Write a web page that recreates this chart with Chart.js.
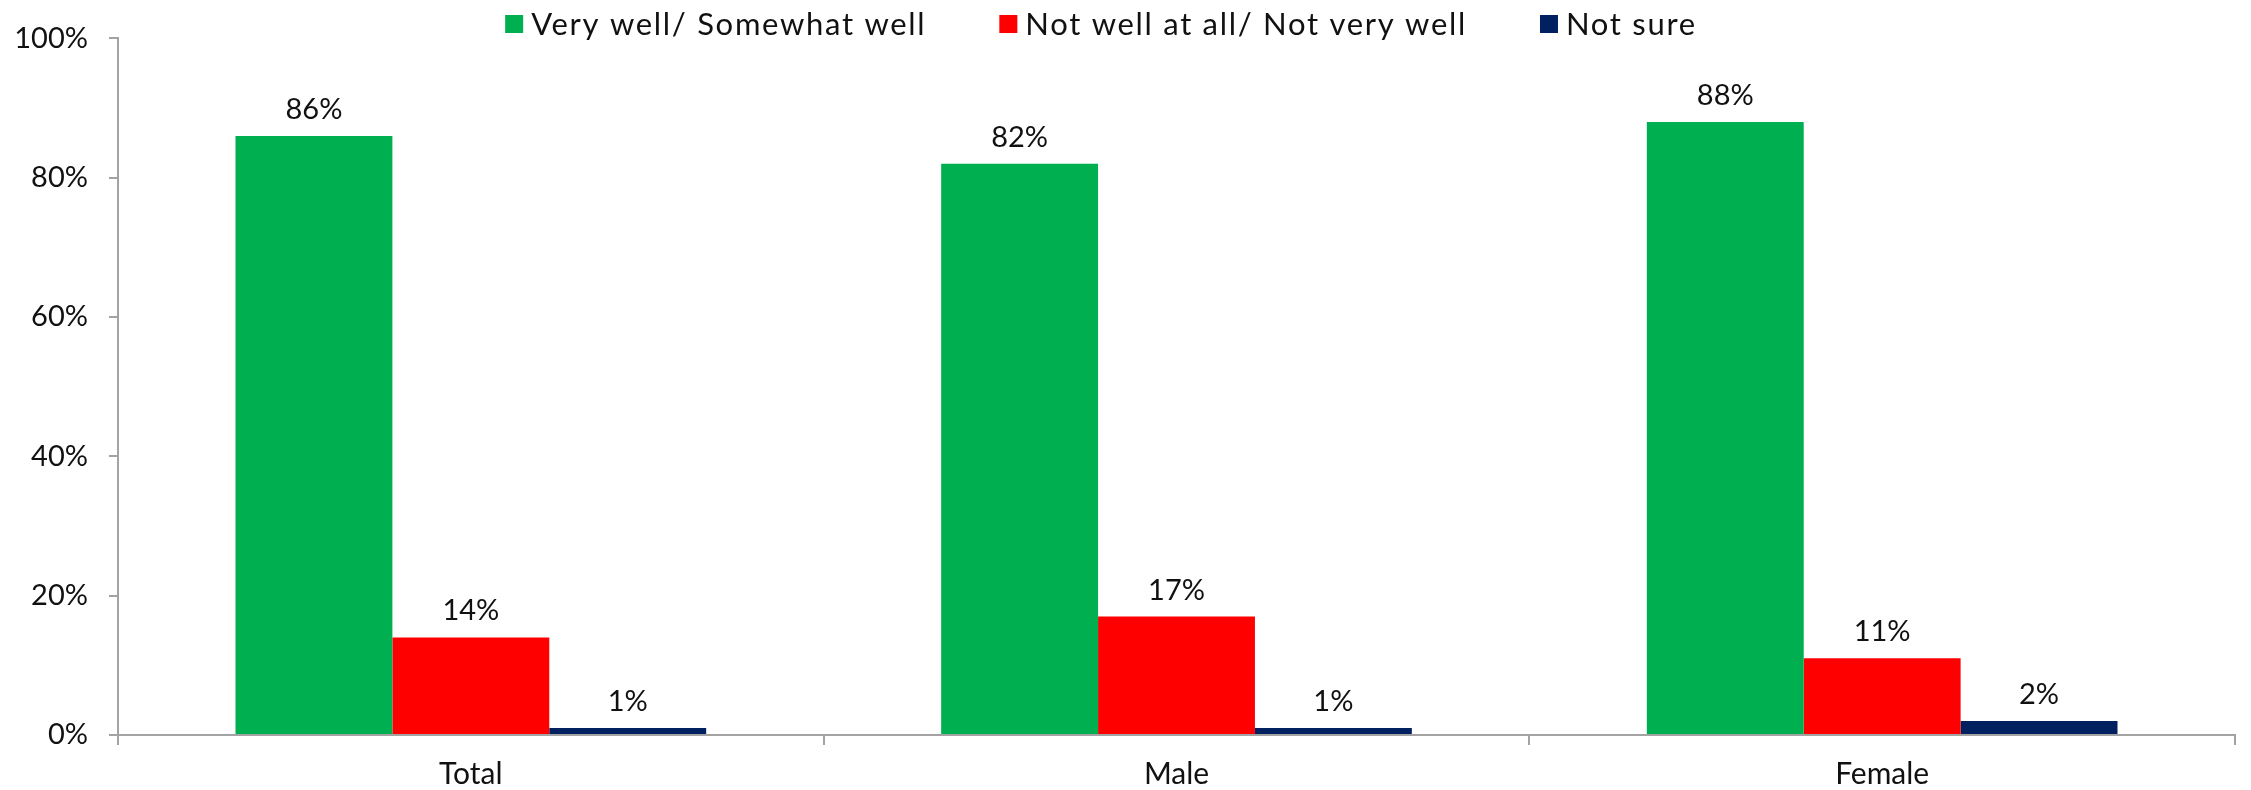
<!DOCTYPE html>
<html>
<head>
<meta charset="utf-8">
<script src="https://cdn.jsdelivr.net/npm/chart.js@4.4.1/dist/chart.umd.min.js"></script>
<style>
  html, body { margin: 0; padding: 0; background: #ffffff; }
  #wrap { width: 2251px; height: 790px; position: relative; }
</style>
</head>
<body>
<div id="wrap"><canvas id="chart" width="2251" height="790"></canvas></div>
<script>
// Survey breakdown by group
const categories = ['Total', 'Male', 'Female'];
const seriesNames = ['Very well/ Somewhat well', 'Not well at all/ Not very well', 'Not sure'];
const veryWell = [86, 82, 88];
const notWell = [14, 17, 11];
const notSure = [1, 1, 2];
const yTicks = [0, 20, 40, 60, 80, 100];

const COLORS = ['#00B050', '#FF0000', '#002060'];
const FONT = 'Lato, "Noto Sans", sans-serif';
const AXIS = '#a3a3a3';
const TEXT = '#111111';

// Custom legend row across the top
const topLegend = {
  id: 'topLegend',
  afterDraw(chart) {
    const ctx = chart.ctx;
    const box = 18, gapText = 8, gapItem = 73;
    ctx.save();
    ctx.font = '31px ' + FONT;
    ctx.letterSpacing = '1.7px';
    const items = chart.data.datasets.map(ds => ({
      label: ds.label, color: ds.backgroundColor, w: ctx.measureText(ds.label).width
    }));
    const total = items.reduce((s, it) => s + box + gapText + it.w, 0) + gapItem * (items.length - 1);
    let x = 1101 - total / 2;
    const cy = 24;
    ctx.textBaseline = 'middle';
    ctx.textAlign = 'left';
    items.forEach(it => {
      ctx.fillStyle = it.color;
      ctx.fillRect(x, cy - box / 2, box, box);
      ctx.fillStyle = TEXT;
      ctx.fillText(it.label, x + box + gapText, cy + 1);
      x += box + gapText + it.w + gapItem;
    });
    ctx.restore();
  }
};

// Value labels above each bar
const barValues = {
  id: 'barValues',
  afterDatasetsDraw(chart) {
    const ctx = chart.ctx;
    ctx.save();
    ctx.font = '29px ' + FONT;
    ctx.fillStyle = TEXT;
    ctx.textAlign = 'center';
    ctx.textBaseline = 'alphabetic';
    chart.data.datasets.forEach((ds, di) => {
      chart.getDatasetMeta(di).data.forEach((bar, i) => {
        ctx.fillText(ds.data[i] + '%', bar.x, bar.y - 17);
      });
    });
    ctx.restore();
  }
};

new Chart(document.getElementById('chart'), {
  type: 'bar',
  data: {
    labels: categories,
    datasets: [
      { label: seriesNames[0], data: veryWell, backgroundColor: COLORS[0] },
      { label: seriesNames[1], data: notWell, backgroundColor: COLORS[1] },
      { label: seriesNames[2], data: notSure, backgroundColor: COLORS[2] }
    ]
  },
  options: {
    responsive: false,
    animation: false,
    layout: { padding: { top: 37, right: 16, left: 0, bottom: 0 } },
    datasets: { bar: { categoryPercentage: 0.667, barPercentage: 1.0, borderWidth: 0 } },
    plugins: {
      legend: { display: false },
      tooltip: { enabled: false }
    },
    scales: {
      x: {
        grid: { display: true, drawOnChartArea: false, offset: true, tickLength: 10, color: AXIS, lineWidth: 2 },
        border: { display: true, color: AXIS, width: 2 },
        ticks: { color: TEXT, font: { family: FONT, size: 30 }, padding: 11 },
        afterFit(scale) { scale.height = 55; }
      },
      y: {
        min: 0, max: 100,
        afterBuildTicks(scale) { scale.ticks = yTicks.map(v => ({ value: v })); },
        grid: { display: true, drawOnChartArea: false, tickLength: 9, color: AXIS, lineWidth: 2 },
        border: { display: true, color: AXIS, width: 2 },
        ticks: { color: TEXT, font: { family: FONT, size: 29 }, padding: 21, callback: v => v + '%' },
        afterFit(scale) { scale.width = 118; }
      }
    }
  },
  plugins: [topLegend, barValues]
});
</script>
</body>
</html>
